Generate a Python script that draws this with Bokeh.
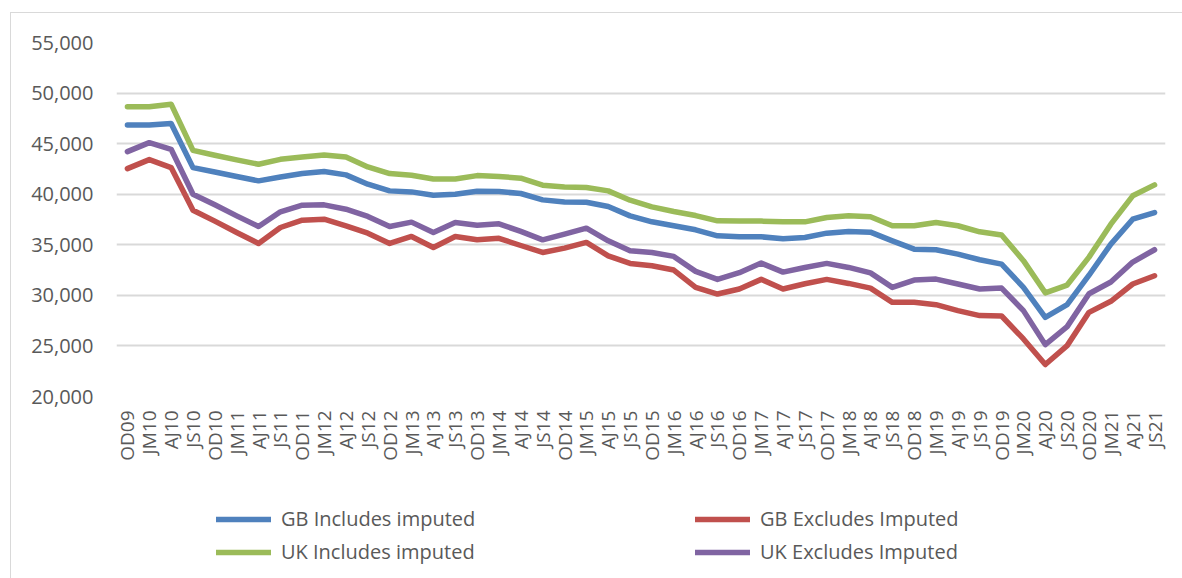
import math
from bokeh.plotting import figure
from bokeh.layouts import column
from bokeh.models import FactorRange, Range1d, Legend, LegendItem, FixedTicker, NumeralTickFormatter
from bokeh.embed import file_html
from bokeh.resources import INLINE

quarters = ["OD09", "JM10", "AJ10", "JS10", "OD10", "JM11", "AJ11", "JS11", "OD11", "JM12",
            "AJ12", "JS12", "OD12", "JM13", "AJ13", "JS13", "OD13", "JM14", "AJ14", "JS14",
            "OD14", "JM15", "AJ15", "JS15", "OD15", "JM16", "AJ16", "JS16", "OD16", "JM17",
            "AJ17", "JS17", "OD17", "JM18", "AJ18", "JS18", "OD18", "JM19", "AJ19", "JS19",
            "OD19", "JM20", "AJ20", "JS20", "OD20", "JM21", "AJ21", "JS21"]

gb_includes = [46840, 46840, 47000, 42630, 42200, 41750, 41320, 41710, 42040, 42240,
               41910, 40990, 40330, 40230, 39900, 40000, 40300, 40260, 40070, 39440,
               39240, 39210, 38780, 37860, 37270, 36880, 36480, 35890, 35790, 35790,
               35590, 35720, 36150, 36320, 36250, 35390, 34570, 34510, 34080, 33520,
               33090, 30790, 27830, 29080, 31990, 35070, 37530, 38190]

gb_excludes = [42530, 43420, 42630, 38420, 37340, 36220, 35130, 36710, 37430, 37530,
               36870, 36150, 35130, 35820, 34730, 35820, 35490, 35640, 34930, 34240,
               34670, 35230, 33910, 33160, 32930, 32500, 30790, 30130, 30630, 31580,
               30630, 31150, 31580, 31180, 30710, 29310, 29310, 29080, 28490, 28000,
               27960, 25690, 23160, 25030, 28320, 29410, 31120, 31940]

uk_includes = [48650, 48650, 48900, 44340, 43850, 43400, 42960, 43450, 43680, 43880,
               43680, 42700, 42040, 41880, 41510, 41510, 41840, 41760, 41580, 40890,
               40720, 40660, 40330, 39410, 38750, 38290, 37890, 37370, 37340, 37340,
               37270, 37270, 37700, 37860, 37780, 36880, 36880, 37200, 36880, 36280,
               35970, 33430, 30250, 31020, 33780, 37040, 39840, 40920]

uk_excludes = [44210, 45100, 44440, 40000, 38950, 37860, 36810, 38260, 38910, 38950,
               38520, 37800, 36810, 37240, 36220, 37200, 36940, 37070, 36320, 35490,
               36050, 36640, 35390, 34410, 34240, 33850, 32370, 31580, 32240, 33190,
               32300, 32760, 33160, 32760, 32220, 30790, 31510, 31610, 31120, 30630,
               30720, 28490, 25130, 26910, 30160, 31320, 33290, 34510]

y_ticks = [20000, 25000, 30000, 35000, 40000, 45000, 50000, 55000]

series_names = ["GB Includes imputed", "GB Excludes Imputed", "UK Includes imputed", "UK Excludes Imputed"]
series_colors = ["#4F81BD", "#C0504D", "#9BBB59", "#8064A2"]
series_values = [gb_includes, gb_excludes, uk_includes, uk_excludes]

FONT = "Open Sans"
TEXT_COLOR = "#595959"
LINE_W = 5.5
OFF_X, OFF_Y = 10, 12   # position of the chart-area border
B = 1                   # border width

# ---- main chart ----
p = figure(width=1182 - OFF_X - B, height=457,
           x_range=FactorRange(*quarters), y_range=Range1d(20000, 55000),
           output_backend="svg", toolbar_location=None,
           min_border_left=116 - OFF_X - B, min_border_right=17,
           min_border_top=42 - OFF_Y - B, min_border_bottom=74)

for vals, col in zip(series_values, series_colors):
    p.line(quarters, vals, line_color=col, line_width=LINE_W, line_join="round", line_cap="round")

p.outline_line_color = None
p.background_fill_color = "white"
p.border_fill_color = "white"

p.xgrid.grid_line_color = None
p.ygrid.ticker = FixedTicker(ticks=y_ticks)
p.ygrid.grid_line_color = "#d9d9d9"
p.ygrid.grid_line_width = 2

p.yaxis.ticker = FixedTicker(ticks=y_ticks)
p.yaxis.formatter = NumeralTickFormatter(format="0,0")
p.yaxis.axis_line_color = None
p.yaxis.major_tick_line_color = None
p.yaxis.minor_tick_line_color = None
p.yaxis.major_label_standoff = 17
p.yaxis.major_label_text_font = FONT
p.yaxis.major_label_text_font_size = "20px"
p.yaxis.major_label_text_color = TEXT_COLOR

p.xaxis.axis_line_color = None
p.xaxis.major_tick_line_color = None
p.xaxis.major_label_orientation = math.pi / 2
p.xaxis.major_label_standoff = 8
p.xaxis.major_label_text_font = FONT
p.xaxis.major_label_text_font_size = "19px"
p.xaxis.major_label_text_color = TEXT_COLOR

# ---- legend strip (its frame is aligned with the main chart's frame) ----
lg = figure(width=1182 - OFF_X - B, height=108, x_range=Range1d(0, 1), y_range=Range1d(0, 1),
            output_backend="svg", toolbar_location=None,
            x_axis_type=None, y_axis_type=None, min_border=0)
lg.outline_line_color = None
lg.xgrid.grid_line_color = None
lg.ygrid.grid_line_color = None

legend_renderers = []
for col in series_colors:
    legend_renderers.append(lg.line(x=[5, 6], y=[5, 5], line_color=col, line_width=LINE_W,
                                    line_cap="round"))

def make_legend(idx, x):
    return Legend(
        items=[LegendItem(label=series_names[i], renderers=[legend_renderers[i]]) for i in idx],
        location=(x, 13), margin=0,
        glyph_width=55, glyph_height=20, label_height=20,
        label_standoff=10, spacing=6, padding=0,
        border_line_color=None, background_fill_alpha=0,
        label_text_font=FONT, label_text_font_size="20px", label_text_color=TEXT_COLOR,
    )

lg.add_layout(make_legend([0, 2], 100), "center")
lg.add_layout(make_legend([1, 3], 579), "center")

layout = column(p, lg, spacing=0)
layout.styles = {"margin-left": f"{OFF_X}px", "margin-top": f"{OFF_Y}px",
                 "border-left": f"{B}px solid #d9d9d9", "border-top": f"{B}px solid #d9d9d9"}
open("out.html", "w").write(file_html(layout, INLINE))
